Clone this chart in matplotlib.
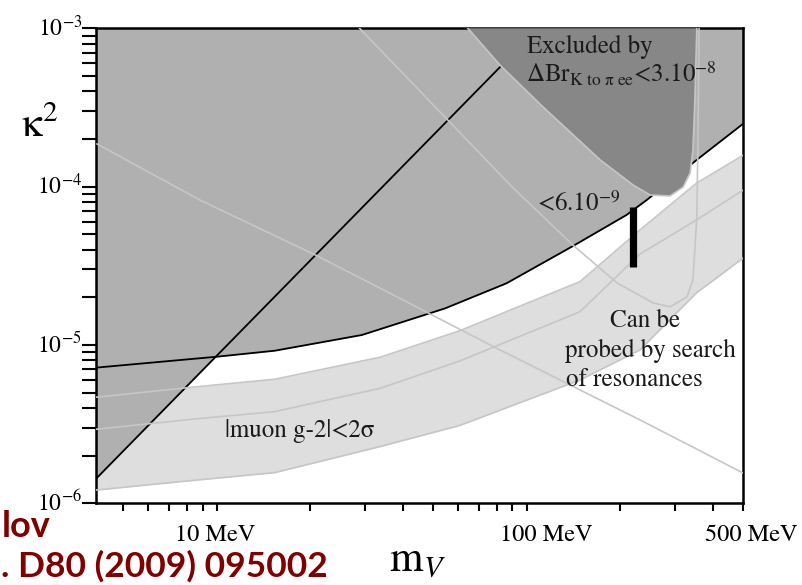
import math
import matplotlib
matplotlib.use('Agg')
import matplotlib.pyplot as plt

plt.rcParams['mathtext.fontset'] = 'stix'
plt.rcParams['font.family'] = ['STIXGeneral', 'DejaVu Serif']

# ---------------- data (m_V in MeV, kappa^2) ----------------
# upper black boundary curve
curve_m = [4.07, 10, 15.4, 29.4, 54.5, 86.1, 141, 210, 244, 353, 500]
curve_k2 = [7.18e-6, 8.42e-6, 9.19e-6, 1.155e-5, 1.70e-5, 2.45e-5, 4.21e-5,
            6.62e-5, 8.23e-5, 1.47e-4, 2.50e-4]
# black diagonal line
diag_m = [4.07, 82.7]
diag_k2 = [1.42e-6, 5.78e-4]
# muon g-2 band (lower edge, central line, upper edge)
band_m = [4.07, 8.3, 15.4, 33.7, 60.9, 148.6, 232, 353, 500]
band_up = [4.67e-6, 5.40e-6, 6.07e-6, 8.36e-6, 1.23e-5, 2.51e-5, 5.32e-5, 1.05e-4, 1.58e-4]
band_mid = [2.93e-6, 3.39e-6, 3.79e-6, 5.32e-6, 7.92e-6, 1.62e-5, 3.75e-5, 6.15e-5, 9.52e-5]
band_low = [1.21e-6, 1.39e-6, 1.56e-6, 2.28e-6, 3.10e-6, 6.00e-6, 9.29e-6, 2.13e-5, 3.54e-5]
# light grey descending line A
lineA_m = [4.11, 8.83, 20.8, 33.7, 80, 232, 500]
lineA_k2 = [1.86e-4, 8.22e-5, 3.70e-5, 2.28e-5, 9.52e-6, 3.36e-6, 1.55e-6]
# light grey U-shaped line B
lineB_m = [28.9, 55.7, 89.8, 141, 196, 256, 290, 329, 344, 354, 357, 360]
lineB_k2 = [1e-3, 2.63e-4, 9.94e-5, 4.27e-5, 2.46e-5, 1.84e-5, 1.74e-5, 2.01e-5,
            2.57e-5, 6.43e-5, 1.97e-4, 1e-3]
# dark excluded region (Delta Br K -> pi ee)
dark_m = [64.6, 82, 113, 173, 221, 250, 290, 320, 337, 344, 349, 354]
dark_k2 = [1e-3, 5.86e-4, 3.18e-4, 1.47e-4, 1.02e-4, 8.85e-5, 8.72e-5, 9.94e-5,
           1.22e-4, 1.70e-4, 3.52e-4, 1e-3]
# vertical bar (<6.10^-9)
bar_m = 221
bar_k2 = [3.12e-5, 7.46e-5]

y_ticks = [1e-3, 1e-4, 1e-5, 1e-6]
y_tick_labels = [r'$10^{-3}$', r'$10^{-4}$', r'$10^{-5}$', r'$10^{-6}$']
x_tick_labels = ['10 MeV', '100 MeV', '500 MeV']

# ---------------- figure ----------------
W, H = 802, 585
fig = plt.figure(figsize=(W / 100, H / 100), dpi=100)
L, R, T, B = 95.7, 743.3, 28.3, 503.2
ax = fig.add_axes([L / W, 1 - B / H, (R - L) / W, (B - T) / H])
ax.set_xscale('log')
ax.set_yscale('log')
ax.set_xlim(4.07, 500)
ax.set_ylim(1e-6, 1e-3)
ax.set_facecolor('white')

MID = '#b0b0b0'
DARK = '#878787'
BAND = '#dedede'
LINE = '#c6c6c6'

ax.fill_between(band_m, band_low, band_up, color=BAND, lw=0, zorder=1)
ax.fill_between(curve_m, curve_k2, 1e-3, color=MID, lw=0, zorder=2)
ax.fill_between(diag_m, diag_k2, 1e-3, color=MID, lw=0, zorder=2)
ax.plot(curve_m, curve_k2, color='black', lw=1.3, zorder=3)
ax.plot(diag_m, diag_k2, color='black', lw=1.3, zorder=3)
ax.fill(dark_m, dark_k2, color=DARK, lw=0, zorder=4)

for ys in (band_up, band_mid, band_low):
    ax.plot(band_m, ys, color=LINE, lw=1.2, zorder=5)
ax.plot(lineA_m, lineA_k2, color=LINE, lw=1.2, zorder=5)
ax.plot(lineB_m, lineB_k2, color=LINE, lw=1.2, zorder=5)
ax.plot(dark_m, dark_k2, color=LINE, lw=1.2, zorder=5)
ax.plot([bar_m, bar_m], bar_k2, color='black', lw=5.2, solid_capstyle='butt', zorder=6)

for s in ax.spines.values():
    s.set_linewidth(1.8)
ax.tick_params(axis='y', which='both', direction='out', length=10, width=1.5,
               left=True, right=False, labelleft=False)
ax.tick_params(axis='x', which='both', direction='out', length=6, width=1.5,
               bottom=True, top=False, labelbottom=False)


def ftext(x, y, s, **kw):
    return fig.text(x / W, 1 - y / H, s, **kw)


TXT = '#1a1a1a'

# y tick labels
for yv, lab in zip(y_ticks, y_tick_labels):
    py = T + (-3 - math.log10(yv)) * (B - T) / 3
    ftext(82, py + 8, lab, ha='right', va='baseline', fontsize=17)

# x tick labels
ftext(215, 541, x_tick_labels[0], ha='center', va='baseline', fontsize=17.5)
ftext(500, 541, x_tick_labels[1], ha='left', va='baseline', fontsize=17.5)
ftext(705, 541, x_tick_labels[2], ha='left', va='baseline', fontsize=17.5)

# axis labels
ftext(21, 137, 'κ$^2$', ha='left', va='baseline', fontsize=30)
ftext(389, 572, r'$\mathrm{m}_V$', ha='left', va='baseline', fontsize=31)

# annotations
ftext(527, 53, 'Excluded by', ha='left', va='baseline', fontsize=18, color=TXT)
ftext(526, 83, r'ΔBr$_{\mathrm{K\ to\ π\ ee}}$<3.10$^{-8}$',
      ha='left', va='baseline', fontsize=18, color=TXT)
ftext(537, 211, '<6.10$^{-9}$', ha='left', va='baseline', fontsize=18, color=TXT)
ftext(225, 437, '|muon g-2|<2σ', ha='left', va='baseline', fontsize=18, color=TXT)
ftext(645, 327, 'Can be', ha='center', va='baseline', fontsize=18, color=TXT)
ftext(565, 357, 'probed by search', ha='left', va='baseline', fontsize=18, color=TXT)
ftext(566, 386, 'of resonances', ha='left', va='baseline', fontsize=18, color=TXT)

# slide text in dark red (visible part)
RED = '#800000'
ftext(2, 537, 'lov', ha='left', va='baseline', fontsize=26,
      fontweight='bold', family=['Lato', 'DejaVu Sans'], color=RED)
ftext(1, 577, '. D80 (2009) 095002', ha='left', va='baseline', fontsize=25.5,
      fontweight='bold', family=['Lato', 'DejaVu Sans'], color=RED)

fig.savefig('out.png', dpi=100)
